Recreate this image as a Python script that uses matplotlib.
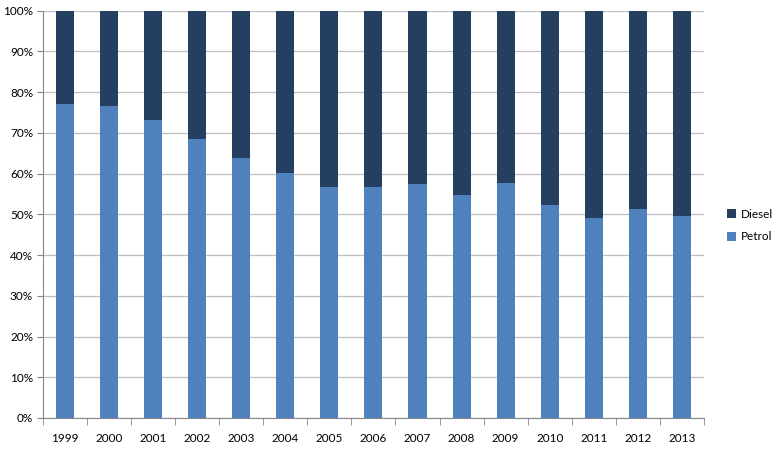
import matplotlib
matplotlib.use("Agg")
import matplotlib.pyplot as plt
import numpy as np
from matplotlib.ticker import PercentFormatter

years = ["1999", "2000", "2001", "2002", "2003", "2004", "2005", "2006",
         "2007", "2008", "2009", "2010", "2011", "2012", "2013"]
petrol = [77.1, 76.6, 73.2, 68.5, 63.8, 60.1, 56.7, 56.7,
          57.4, 54.7, 57.8, 52.2, 49.1, 51.2, 49.6]
diesel = [100 - p for p in petrol]

plt.rcParams['font.family'] = ['Lato', 'DejaVu Sans']

fig = plt.figure(figsize=(7.74, 4.51), dpi=100)
ax = fig.add_axes([0.0552, 0.0732, 0.8544, 0.9031])

x = np.arange(len(years))
ax.bar(x, petrol, width=0.41, color="#4F81BD", label="Petrol", zorder=3)
ax.bar(x, diesel, width=0.41, bottom=petrol, color="#243F60", label="Diesel", zorder=3)

ax.set_xlim(-0.5, len(years) - 0.5)
ax.set_ylim(0, 100)
ax.set_yticks(np.arange(0, 101, 10))
ax.yaxis.set_major_formatter(PercentFormatter(decimals=0))
ax.grid(axis="y", color="#BFBFBF", linewidth=0.9, zorder=0)

ax.set_xticks(x)
ax.set_xticklabels(years)
ax.set_xticks(np.arange(-0.5, len(years), 1), minor=True)
ax.tick_params(axis="x", which="major", length=0, pad=11, labelsize=8.5)
ax.tick_params(axis="x", which="minor", length=5, color="#868686")
ax.tick_params(axis="y", length=4, color="#868686", labelsize=8.5, pad=3)

for s in ["top", "right"]:
    ax.spines[s].set_visible(False)
for s in ["left", "bottom"]:
    ax.spines[s].set_color("#868686")

handles, labels = ax.get_legend_handles_labels()
fig.legend(handles[::-1], labels[::-1], loc="center left",
           bbox_to_anchor=(0.925, 0.5), frameon=False, fontsize=8.5,
           handlelength=0.8, handleheight=0.8, handletextpad=0.4,
           labelspacing=1.0)

fig.savefig("out.png", dpi=100)
